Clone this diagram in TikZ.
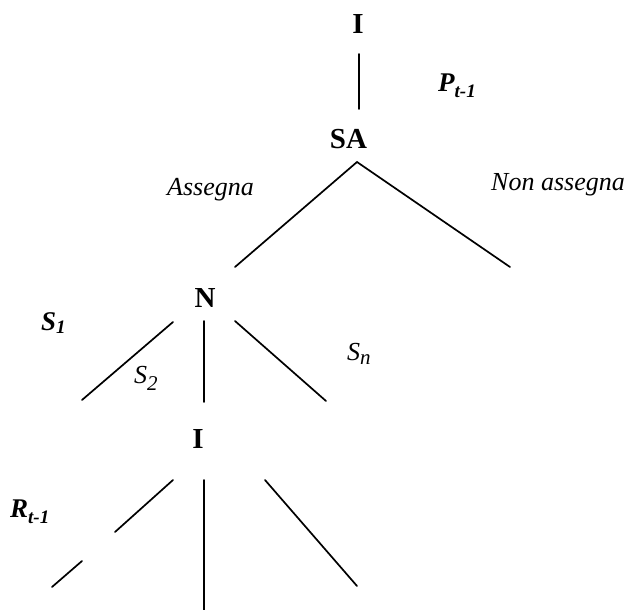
\documentclass[tikz,border=0pt]{standalone}
\usepackage{fontspec}
\setmainfont{Liberation Serif}
\newcommand\lowsub[2][6pt]{\raisebox{-#1}{\fontsize{19}{19}\selectfont #2}}
\begin{document}
\begin{tikzpicture}[x=1pt,y=-1pt,
  bld/.style={inner sep=0pt,font=\fontsize{29}{32}\selectfont\bfseries},
  itl/.style={inner sep=0pt,font=\fontsize{26}{30}\selectfont\itshape},
  bit/.style={inner sep=0pt,font=\fontsize{27}{30}\selectfont\bfseries\itshape},
  edge/.style={line width=1.7pt,line cap=round}]
\useasboundingbox (0,0) rectangle (630,610);

% tree nodes
\node[bld,anchor=base] (I1) at (358,34) {I};
\node[bld,anchor=base] (SA) at (348.5,148) {SA};
\node[bld,anchor=base] (N)  at (205,307) {N};
\node[bld,anchor=base] (I2) at (198,448) {I};

% labels
\node[bit,anchor=base west] (P) at (438,92) {P\lowsub{t-1}};
\node[itl,anchor=base west] (as) at (167,195) {Assegna};
\node[itl,anchor=base west] (nas) at (491,190) {Non assegna};
\node[bit,anchor=base west] (s1) at (41,330) {S\lowsub[3pt]{1}};
\node[itl,anchor=base west] (s2) at (134,383) {S\lowsub[7pt]{\fontsize{21}{21}\selectfont 2}};
\node[itl,anchor=base west] (sn) at (347,360) {S\lowsub[4pt]{\fontsize{21}{21}\selectfont n}};
\node[bit,anchor=base west] (r) at (10,517) {R\lowsub{t-1}};

% connector end points
\coordinate (i1b) at (359,54);
\coordinate (sat) at (359,109);
\coordinate (sap) at (357,162);
\coordinate (nTop) at (235,267);
\coordinate (nasE) at (510,267);
\coordinate (nl) at (173,322);
\coordinate (s1e) at (82,400);
\coordinate (nv) at (204,321);
\coordinate (s2e) at (204,402);
\coordinate (nr) at (235,321);
\coordinate (sne) at (326,401);
\coordinate (il) at (173,480);
\coordinate (ig1) at (115,532);
\coordinate (ig2) at (82,561);
\coordinate (re) at (52,587);
\coordinate (iv) at (204,480);
\coordinate (ive) at (204,612);
\coordinate (ir) at (265,480);
\coordinate (ire) at (357,586);

% connectors
\draw[edge] (i1b) -- (sat);
\draw[edge] (nTop) -- (sap) -- (nasE);
\draw[edge] (nl) -- (s1e);
\draw[edge] (nv) -- (s2e);
\draw[edge] (nr) -- (sne);
\draw[edge] (il) -- (ig1);
\draw[edge] (ig2) -- (re);
\draw[edge] (iv) -- (ive);
\draw[edge] (ir) -- (ire);
\end{tikzpicture}
\end{document}
